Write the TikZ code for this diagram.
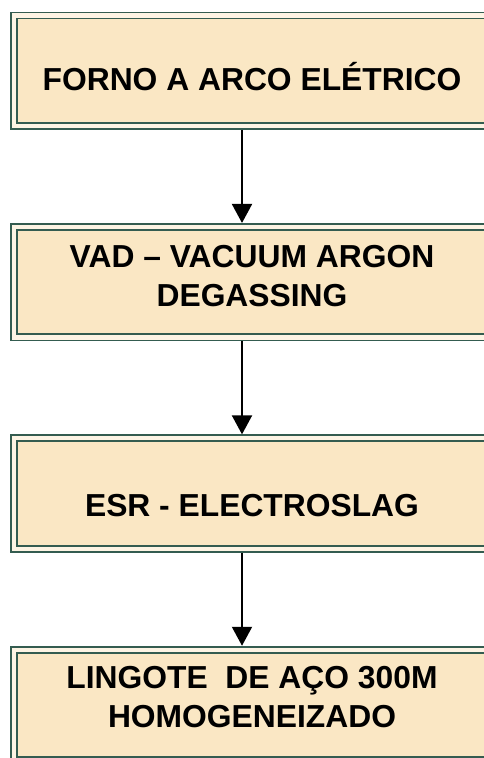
\documentclass[tikz,border=0pt]{standalone}
\usepackage{fontspec}
\setmainfont{Liberation Sans}
\usetikzlibrary{positioning,arrows.meta}
\definecolor{caixabege}{RGB}{250,231,196}
\definecolor{caixaverde}{RGB}{52,92,80}

\begin{document}
\begin{tikzpicture}[x=1pt,y=-1pt,font=\fontsize{31.8}{39}\selectfont\bfseries,>={Triangle[width=20pt,length=19pt]},node distance=93pt,
          caixa/.style ={draw=caixaverde,line width=1.8pt,double=white!55!caixabege,double distance=4.3pt,fill=caixabege,minimum width=475.4pt,minimum height=110.5pt,outer sep=3.95pt,inner sep=0pt},
          rotulo/.style={align=center,inner sep=0pt,anchor=base},
          seta/.style  ={->,line width=2pt}]
        \useasboundingbox (0,0) rectangle (484,758);
        \clip (0,0) rectangle (484,758);
        \node[caixa] (forno) at (252,70.75) {};
        \node[caixa] (vad) [below=of forno] {};
        \node[caixa] (esr) [below=of vad] {};
        \node[caixa] (lingote) [below=of esr] {};
        % base = ultima linha do texto
        \node[rotulo] (fornotxt) at ([yshift=-78.5pt]forno.north) {FORNO A ARCO ELÉTRICO};
        \node[rotulo] (vadtxt) at ([yshift=-83.7pt]vad.north) {VAD – VACUUM ARGON\\DEGASSING};
        \node[rotulo] (esrtxt) at ([yshift=-82.6pt]esr.north) {ESR - ELECTROSLAG};
        \node[rotulo] (lingotetxt) at ([yshift=-82pt]lingote.north) {LINGOTE\ \ DE AÇO 300M\\HOMOGENEIZADO};
        \draw[seta] ([xshift=-10pt]forno.south) -- ([xshift=-10pt]vad.north);
        \draw[seta] ([xshift=-10pt]vad.south) -- ([xshift=-10pt]esr.north);
        \draw[seta] ([xshift=-10pt]esr.south) -- ([xshift=-10pt]lingote.north);
      \end{tikzpicture}
\end{document}
